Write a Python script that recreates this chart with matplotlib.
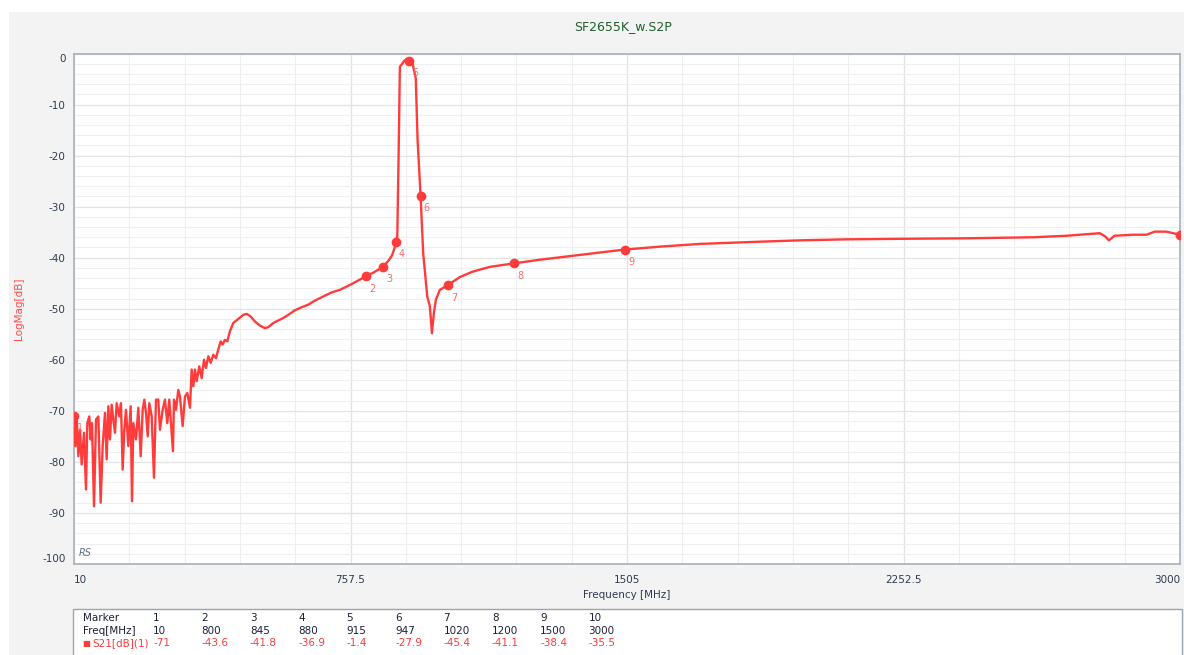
import numpy as np
import matplotlib.pyplot as plt
from matplotlib.patches import Rectangle

plt.rcParams['axes.unicode_minus'] = False


# trace S21 [dB]
freq_noise = [10, 13.6, 17.2, 21.7, 26.2, 30.7, 37.0, 42.4, 46.0, 51.4, 55.0, 58.6, 64.1, 69.5,
              75.8, 82.1, 87.5, 93.8, 98.3, 102.8, 107.3, 111.8, 116.3, 120.8, 125.3, 132.5,
              137.0, 141.5, 146.0, 150.5, 156.8, 163.2, 166.8, 170.4, 177.6, 183.9, 190.3,
              195.7, 200.2, 204.7, 209.2, 213.7, 220.0, 226.2, 231.6, 237.9, 242.4, 249.7,
              255.9, 262.2, 267.6, 274.0, 277.5, 280.3, 285.7, 291.9, 296.5, 303.7, 310.0,
              316.3, 323.5]
db_noise = [-71.0, -76.9, -71.1, -78.9, -73.7, -80.5, -74.3, -85.4, -72.4, -71.1, -75.6, -72.4,
            -88.7, -71.7, -71.1, -88.0, -76.9, -70.4, -79.5, -69.1, -75.6, -68.8, -71.7, -74.3,
            -68.5, -71.1, -68.5, -81.5, -73.7, -69.8, -76.9, -69.1, -87.7, -72.4, -75.6, -69.4,
            -78.9, -69.8, -67.8, -70.4, -75.0, -68.5, -71.1, -83.1, -67.8, -67.8, -73.7, -69.8,
            -67.8, -72.4, -67.8, -74.3, -77.9, -67.8, -69.8, -65.9, -67.2, -73.0, -67.2, -66.5,
            -69.4]

freq_rise = [328.1, 332.6, 337.0, 341.6, 348.7, 355.1, 361.4, 366.8, 373.1, 379.5, 386.5, 393.8,
             400.0, 406.5, 411.9, 418.1, 424.4, 431.6, 440.6, 454.1, 467.6, 476.8, 487.6, 499.2,
             512.7, 526.2, 535.2, 548.7, 562.2, 575.8, 589.3, 607.3, 625.4, 643.3, 661.4, 683.8,
             706.4, 729.0, 765.0, 800.0, 820.0, 845.0, 860.0, 870.0, 877.0]
db_rise = [-61.9, -65.2, -61.9, -64.2, -61.3, -63.6, -60.0, -61.6, -59.3, -60.6, -59.0, -59.7,
           -58.0, -56.4, -57.0, -56.1, -56.4, -54.4, -52.8, -52.0, -51.2, -51.0, -51.5, -52.5,
           -53.3, -53.8, -53.6, -52.8, -52.3, -51.8, -51.2, -50.3, -49.7, -49.2, -48.4, -47.6,
           -46.8, -46.3, -45.0, -43.6, -42.9, -41.8, -40.6, -39.5, -38.0]

freq_pass = [880.0, 884.0, 887.5, 891.0, 896.5, 902.0, 909.0, 915.0, 920.0, 925.4, 934.0, 938.8,
             947.0, 954.0, 965.0, 972.0, 977.6, 983.0, 988.4, 999.2, 1020.0, 1053.0, 1089.0,
             1134.0, 1200.0, 1269.0, 1360.0, 1430.0, 1500.0]
db_pass = [-36.9, -35.8, -20.2, -2.6, -2.1, -1.5, -1.1, -1.4, -1.6, -2.0, -4.9, -16.9,
           -27.9, -39.1, -47.6, -49.5, -54.8, -50.8, -48.2, -46.3, -45.4, -43.8, -42.7,
           -41.8, -41.1, -40.4, -39.6, -39.0, -38.4]

freq_tail = [1600, 1702, 1850, 1972, 2100, 2242, 2422, 2603, 2693, 2783, 2797, 2808, 2823,
             2873, 2909, 2932, 2963, 2995, 3000]
db_tail = [-37.8, -37.3, -36.9, -36.6, -36.4, -36.3, -36.2, -36.0, -35.7, -35.2, -35.8, -36.6,
           -35.7, -35.5, -35.5, -34.9, -34.9, -35.4, -35.5]

# marker table
mk_id = ['1', '2', '3', '4', '5', '6', '7', '8', '9', '10']
mk_freq = [10, 800, 845, 880, 915, 947, 1020, 1200, 1500, 3000]
mk_db = [-71, -43.6, -41.8, -36.9, -1.4, -27.9, -45.4, -41.1, -38.4, -35.5]

xticks = [10, 757.5, 1505, 2252.5, 3000]

freq = np.array(freq_noise + freq_rise + freq_pass + freq_tail)
s21 = np.array(db_noise + db_rise + db_pass + db_tail)

W, H = 1184, 655
red = '#ff3b3b'
tick_col = '#2f3b50'

fig = plt.figure(figsize=(W / 100, H / 100), dpi=100, facecolor='white')
# gray panel behind everything
fig.patches.append(Rectangle((9 / W, 0), 1 - 9 / W, 1 - 12 / H, transform=fig.transFigure,
                             facecolor='#f3f3f3', edgecolor='none', zorder=-10))

ax = fig.add_axes([74 / W, 1 - 564 / H, (1180 - 74) / W, (564 - 53.5) / H])
ax.set_facecolor('white')
ax.plot(freq, s21, color=red, lw=1.7, zorder=3)
ax.plot(mk_freq, mk_db, 'o', color=red, ms=6, zorder=4)
# label of marker 10 sits outside the plot in the original, so it is not drawn
for lab, f, d in zip(mk_id[:-1], mk_freq[:-1], mk_db[:-1]):
    ax.annotate(lab, (f, d), xytext=(4.5, -9), textcoords='offset points',
                fontsize=7, color='#ff6a6a', ha='center', va='center', zorder=5)

ax.set_xlim(10, 3000)
ax.set_ylim(-100, 0)
ax.set_xticks(xticks)
ax.set_xticklabels(['10', '757.5', '1505', '2252.5', '3000'])
ax.set_xticks(np.arange(10, 3000.1, 149.5), minor=True)
ax.set_yticks(np.arange(-100, 1, 10))
ax.set_yticks(np.arange(-100, 1, 2), minor=True)
ax.grid(which='minor', color='#efefef', lw=0.8)
ax.grid(which='major', color='#e3e3e3', lw=0.9)
ax.set_axisbelow(True)
ax.tick_params(which='both', length=0, labelsize=7.5, labelcolor=tick_col)
ax.tick_params(axis='x', pad=8)
ax.tick_params(axis='y', pad=6)
xl = ax.get_xticklabels()
xl[0].set_ha('left')
xl[-1].set_ha('right')
yl = ax.get_yticklabels()
yl[-1].set_va('top')
yl[0].set_va('bottom')
for s in ax.spines.values():
    s.set_color('#a8b0ba')
    s.set_linewidth(1.2)

ax.set_xlabel('Frequency [MHz]', fontsize=7.5, color=tick_col)
ax.xaxis.set_label_coords(0.5, -0.051)
ax.set_ylabel('LogMag[dB]', fontsize=7.5, color='#ff4a4a')
ax.yaxis.set_label_coords(-0.045, 0.5)
ax.text(0.004, 0.012, 'RS', transform=ax.transAxes, fontsize=7, style='italic',
        color='#5f6f82', ha='left', va='bottom')

fig.text(623 / W, 1 - 27 / H, 'SF2655K_w.S2P', fontsize=9, color='#1f5e30',
         ha='center', va='center')

# marker table box at the bottom
fig.patches.append(Rectangle((72.7 / W, -0.01), (1182 - 72.7) / W, 0.01 + (H - 609) / H,
                             transform=fig.transFigure, facecolor='white',
                             edgecolor='#9aa4ae', lw=1.0, zorder=1))
row_y = [618.3, 631, 643.3]
fig.text(82.7 / W, 1 - row_y[0] / H, 'Marker', fontsize=7.5, color='#1c1f3a', va='center')
fig.text(82.7 / W, 1 - row_y[1] / H, 'Freq[MHz]', fontsize=7.5, color='#1c1f3a', va='center')
fig.text(82.7 / W, 1 - row_y[2] / H, '■', fontsize=6, color=red, va='center')
fig.text(92 / W, 1 - row_y[2] / H, 'S21[dB](1)', fontsize=7.5, color=red, va='center')
for i, (lab, f, d) in enumerate(zip(mk_id, mk_freq, mk_db)):
    x = (153 + 48.4 * i) / W
    fig.text(x, 1 - row_y[0] / H, lab, fontsize=7.5, color='#1c1f3a', va='center')
    fig.text(x, 1 - row_y[1] / H, f'{f:g}', fontsize=7.5, color='#1c1f3a', va='center')
    fig.text(x, 1 - row_y[2] / H, f'{d:g}', fontsize=7.5, color=red, va='center')

fig.savefig('out.png', dpi=100, facecolor=fig.get_facecolor())
